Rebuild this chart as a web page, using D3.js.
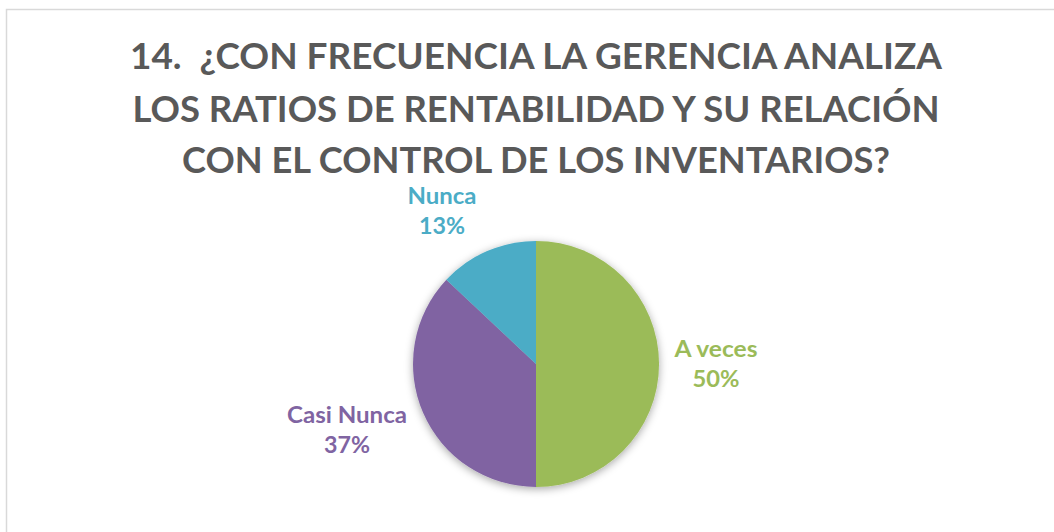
<!DOCTYPE html>
<html>
<head>
<meta charset="utf-8">
<script src="https://cdn.jsdelivr.net/npm/d3@7"></script>
<style>
html,body{margin:0;padding:0;background:#fff;}
svg{display:block;}
text{font-family:Lato,"Open Sans",sans-serif;font-weight:bold;white-space:pre;}
</style>
</head>
<body>
<script>
const categories = ["A veces", "Casi Nunca", "Nunca"];
const values = [50, 37, 13];
const colors = ["#9BBB59", "#8064A2", "#4BACC6"];
const titleLines = [
  "14.  ¿CON FRECUENCIA LA GERENCIA ANALIZA",
  "LOS RATIOS DE RENTABILIDAD Y SU RELACIÓN",
  "CON EL CONTROL DE LOS INVENTARIOS?"
];

const W = 1054, H = 532;
const svg = d3.select("body").append("svg").attr("width", W).attr("height", H);

const defs = svg.append("defs");
const f = defs.append("filter").attr("id", "sh").attr("x", "-20%").attr("y", "-20%").attr("width", "140%").attr("height", "140%");
f.append("feDropShadow").attr("dx", 0).attr("dy", 2).attr("stdDeviation", 4)
  .attr("flood-color", "#000").attr("flood-opacity", 0.35);

// frame
svg.append("rect").attr("x", 6.5).attr("y", 9.5).attr("width", W + 20).attr("height", H + 20)
  .attr("fill", "#fff").attr("stroke", "#d9d9d9").attr("stroke-width", 1.5);

// title
const titleBase = [69, 122, 173];
const titleWidths = [812, 807, 708];
svg.append("g").selectAll("text").data(titleLines).join("text")
  .attr("x", 536).attr("y", (d, i) => titleBase[i])
  .attr("text-anchor", "middle")
  .attr("font-size", 37)
  .attr("fill", "#595959")
  .attr("textLength", (d, i) => titleWidths[i])
  .attr("lengthAdjust", "spacingAndGlyphs")
  .text(d => d);

// pie
const cx = 536, cy = 364, r = 123;
const pie = d3.pie().sort(null).value(d => d)(values);
const arc = d3.arc().innerRadius(0).outerRadius(r);
const g = svg.append("g").attr("transform", `translate(${cx},${cy})`);
g.append("g").attr("filter", "url(#sh)").selectAll("path").data(pie).join("path")
  .attr("d", arc).attr("fill", (d, i) => colors[i]);

// labels
const total = d3.sum(values);
const labelPos = [
  {x: 716, y: 357, w1: 83, w2: 47},
  {x: 347, y: 423, w1: 120, w2: 46},
  {x: 442, y: 204, w1: 69, w2: 46}
];
categories.forEach((c, i) => {
  const p = labelPos[i];
  const t = svg.append("g");
  t.append("text").attr("x", p.x).attr("y", p.y).attr("text-anchor", "middle")
    .attr("font-size", 22).attr("fill", colors[i])
    .attr("textLength", p.w1).attr("lengthAdjust", "spacingAndGlyphs").text(c);
  t.append("text").attr("x", p.x).attr("y", p.y + 30).attr("text-anchor", "middle")
    .attr("font-size", 22).attr("fill", colors[i])
    .attr("textLength", p.w2).attr("lengthAdjust", "spacingAndGlyphs")
    .text(Math.round(values[i] / total * 100) + "%");
});
</script>
</body>
</html>
